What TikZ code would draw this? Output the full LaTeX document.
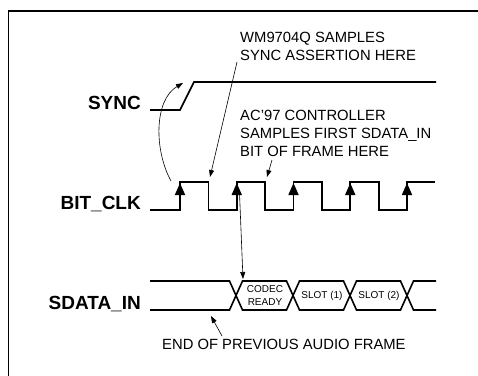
\documentclass[tikz,border=0pt]{standalone}
\usepackage{fontspec}
\setmainfont{Liberation Sans}
\usetikzlibrary{arrows.meta}

\tikzset{
  wave/.style={line width=1.6pt, line join=miter},
  sig/.style={font=\fontsize{19}{22}\selectfont\bfseries, inner sep=0pt, anchor=base east},
  note/.style={font=\fontsize{14.8}{17.8}\selectfont, inner sep=0pt, anchor=north west, align=left},
  slot/.style={font=\fontsize{10}{12.5}\selectfont, inner sep=0pt, align=center},
  pointer/.style={line width=0.6pt, -{Triangle[length=7pt,width=5pt]}},
  edgearrow/.style={line width=1.6pt, -{Triangle[length=12pt,width=10pt]}}
}

\begin{document}
\begin{tikzpicture}[x=1pt,y=-1pt]
\useasboundingbox (0,0) rectangle (478,375);
\clip (0,0) rectangle (478,375);
% frame
\draw[line width=1.4pt] (8.5,400) -- (8.5,11) -- (500,11);

% signal names
\node[sig] (sync) at (141,109) {SYNC};
\node[sig] (bitclk) at (141,209) {BIT\_CLK};
\node[sig] (sdatain) at (141,309) {SDATA\_IN};

% SYNC
\coordinate (syncup) at (183,83);
\draw[wave] (150,110) -- (180,110) -- (194,82) -- (436,82);

% BIT_CLK
\draw[wave] (150,210) foreach \i in {0,...,3} {
  -- (180+56.75*\i,210) -- (180+56.75*\i,182)
  -- (208.5+56.75*\i,182) -- (208.5+56.75*\i,210) }
  -- (407,210) -- (407,182) -- (435,182);
\foreach \i in {0,...,4} {
  \draw[edgearrow] (180+56.75*\i,205) -- (180+56.75*\i,183);
  \coordinate (rise\i) at (180+56.75*\i,182);
}
\coordinate (fall0) at (210,177);
\coordinate (fall1) at (267,177);

% SDATA_IN
\draw[wave] (150,281) -- (229.5,281) -- (242.5,310) -- (286.5,310) -- (299.5,281)
  -- (343.5,281) -- (356.5,310) -- (400.5,310) -- (413.5,281) -- (436,281);
\draw[wave] (150,310) -- (229.5,310) -- (242.5,281) -- (286.5,281) -- (299.5,310)
  -- (343.5,310) -- (356.5,281) -- (400.5,281) -- (413.5,310) -- (436,310);
\node[slot] (codec) at (265,295.5) {CODEC\\READY};
\node[slot] (slot1) at (322,295.5) {SLOT (1)};
\node[slot] (slot2) at (379,295.5) {SLOT (2)};
\coordinate (frame) at (243,279);
\coordinate (prevend) at (211,316);

% notes
\node[note] (wm) at (240,32) {WM9704Q SAMPLES\\SYNC ASSERTION HERE};
\node[note] (ac97) at (240,110) {AC'97 CONTROLLER\\SAMPLES FIRST SDATA\_IN\\BIT OF FRAME HERE};
\node[note] (endof) at (162,339) {END OF PREVIOUS AUDIO FRAME};

\coordinate (wmfoot) at (237,62);
\coordinate (acfoot) at (272,160);
\coordinate (endfoot) at (222,336);
\coordinate (clkfoot) at (171,181);
\coordinate (clkdown) at (239.5,193);

\draw[pointer] (clkfoot) .. controls (154,150) and (154,100) .. (syncup);
\draw[pointer] (wmfoot) -- (fall0);
\draw[pointer] (acfoot) -- (fall1);
\draw[pointer] (clkdown) -- (frame);
\draw[pointer] (endfoot) -- (prevend);
\end{tikzpicture}
\end{document}
